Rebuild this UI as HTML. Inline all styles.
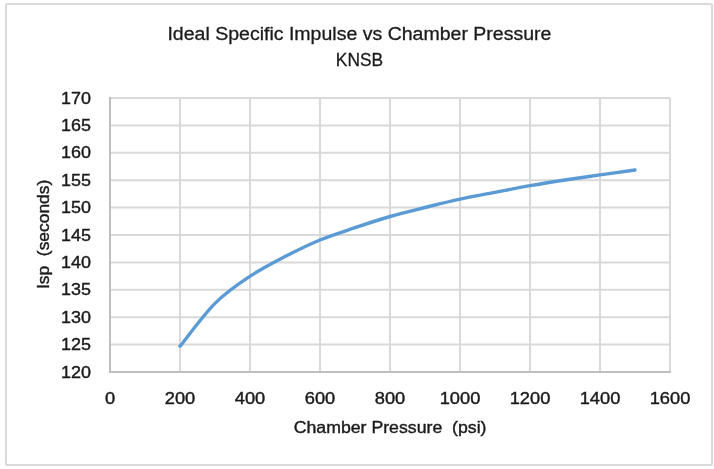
<!DOCTYPE html>
<html><head><meta charset="utf-8"><style>
html,body{margin:0;padding:0;background:#fff;}
svg{display:block;filter:blur(0.3px);}
text{font-family:"Liberation Sans",sans-serif;fill:#1a1a1a;white-space:pre;stroke:#1a1a1a;stroke-width:0.4px;}
.tt text{stroke-width:0.3px;}
</style></head><body>
<svg width="714" height="469" viewBox="0 0 714 469">
<rect x="0" y="0" width="714" height="469" fill="#fff"/>
<rect x="6" y="4" width="706" height="461" rx="1.5" fill="#fff" stroke="#d9d9d9" stroke-width="2"/>
<g stroke="#d9d9d9" stroke-width="2"><line x1="110" y1="98.0" x2="670" y2="98.0"/><line x1="110" y1="125.4" x2="670" y2="125.4"/><line x1="110" y1="152.8" x2="670" y2="152.8"/><line x1="110" y1="180.2" x2="670" y2="180.2"/><line x1="110" y1="207.6" x2="670" y2="207.6"/><line x1="110" y1="235.0" x2="670" y2="235.0"/><line x1="110" y1="262.4" x2="670" y2="262.4"/><line x1="110" y1="289.8" x2="670" y2="289.8"/><line x1="110" y1="317.2" x2="670" y2="317.2"/><line x1="110" y1="344.6" x2="670" y2="344.6"/><line x1="180" y1="98" x2="180" y2="372"/><line x1="250" y1="98" x2="250" y2="372"/><line x1="320" y1="98" x2="320" y2="372"/><line x1="390" y1="98" x2="390" y2="372"/><line x1="460" y1="98" x2="460" y2="372"/><line x1="530" y1="98" x2="530" y2="372"/><line x1="600" y1="98" x2="600" y2="372"/><line x1="670" y1="98" x2="670" y2="372"/></g>
<g stroke="#bfbfbf" stroke-width="2"><line x1="110" y1="97" x2="110" y2="373"/><line x1="109" y1="372" x2="671" y2="372"/></g>
<path d="M180.00 346.30 C185.83 339.15 203.33 315.07 215.00 303.40 C226.67 291.73 238.33 284.10 250.00 276.30 C261.67 268.50 273.33 262.65 285.00 256.60 C296.67 250.55 308.33 244.82 320.00 240.00 C331.67 235.18 343.33 231.62 355.00 227.70 C366.67 223.78 378.33 219.87 390.00 216.50 C401.67 213.13 413.33 210.40 425.00 207.50 C436.67 204.60 448.33 201.63 460.00 199.10 C471.67 196.57 483.33 194.53 495.00 192.30 C506.67 190.07 518.33 187.75 530.00 185.70 C541.67 183.65 553.33 181.80 565.00 180.00 C576.67 178.20 588.33 176.57 600.00 174.90 C611.67 173.23 629.17 170.82 635.00 170.00" fill="none" stroke="#5b9bd5" stroke-width="3.4" stroke-linecap="round" stroke-linejoin="round"/>
<g font-size="18.8" text-anchor="middle" class="tt">
<text x="359.45" y="39.6" transform="translate(359.45 0) scale(1.0386 1) translate(-359.45 0)">Ideal Specific Impulse vs Chamber Pressure</text>
<text x="359.45" y="66.2" transform="translate(359.45 0) scale(0.922 1) translate(-359.45 0)">KNSB</text>
</g>
<g font-size="16.9" text-anchor="end"><text x="91.0" y="103.7" transform="translate(91.0 0) scale(1.0625 1) translate(-91.0 0)">170</text><text x="91.0" y="131.1" transform="translate(91.0 0) scale(1.0625 1) translate(-91.0 0)">165</text><text x="91.0" y="158.5" transform="translate(91.0 0) scale(1.0625 1) translate(-91.0 0)">160</text><text x="91.0" y="185.9" transform="translate(91.0 0) scale(1.0625 1) translate(-91.0 0)">155</text><text x="91.0" y="213.3" transform="translate(91.0 0) scale(1.0625 1) translate(-91.0 0)">150</text><text x="91.0" y="240.7" transform="translate(91.0 0) scale(1.0625 1) translate(-91.0 0)">145</text><text x="91.0" y="268.1" transform="translate(91.0 0) scale(1.0625 1) translate(-91.0 0)">140</text><text x="91.0" y="295.5" transform="translate(91.0 0) scale(1.0625 1) translate(-91.0 0)">135</text><text x="91.0" y="322.9" transform="translate(91.0 0) scale(1.0625 1) translate(-91.0 0)">130</text><text x="91.0" y="350.3" transform="translate(91.0 0) scale(1.0625 1) translate(-91.0 0)">125</text><text x="91.0" y="377.7" transform="translate(91.0 0) scale(1.0625 1) translate(-91.0 0)">120</text></g>
<g font-size="16.9" text-anchor="middle"><text x="110" y="403.6" transform="translate(110 0) scale(1.083 1) translate(-110 0)">0</text><text x="180" y="403.6" transform="translate(180 0) scale(1.083 1) translate(-180 0)">200</text><text x="250" y="403.6" transform="translate(250 0) scale(1.083 1) translate(-250 0)">400</text><text x="320" y="403.6" transform="translate(320 0) scale(1.083 1) translate(-320 0)">600</text><text x="390" y="403.6" transform="translate(390 0) scale(1.083 1) translate(-390 0)">800</text><text x="460" y="403.6" transform="translate(460 0) scale(1.083 1) translate(-460 0)">1000</text><text x="530" y="403.6" transform="translate(530 0) scale(1.083 1) translate(-530 0)">1200</text><text x="600" y="403.6" transform="translate(600 0) scale(1.083 1) translate(-600 0)">1400</text><text x="670" y="403.6" transform="translate(670 0) scale(1.083 1) translate(-670 0)">1600</text></g>
<text x="390.1" y="433.5" font-size="16.9" text-anchor="middle" transform="translate(390.1 0) scale(1.0487 1) translate(-390.1 0)">Chamber Pressure  (psi)</text>
<g transform="translate(49.2 234.4) rotate(-90)"><text x="0" y="0" font-size="16.9" text-anchor="middle" transform="scale(1.03 1)">Isp  (seconds)</text></g>
</svg>
</body></html>
